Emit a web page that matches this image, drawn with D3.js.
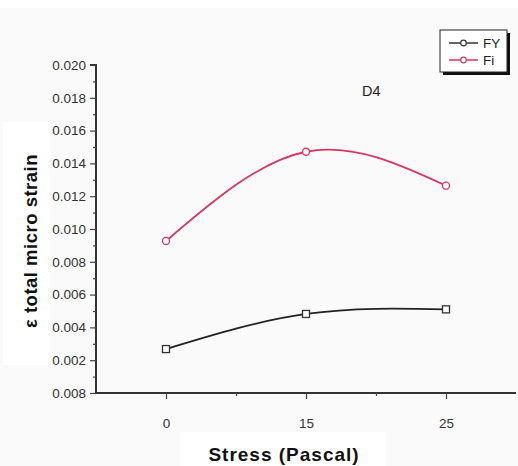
<!DOCTYPE html>
<html>
<head>
<meta charset="utf-8">
<script src="https://cdn.jsdelivr.net/npm/d3@7"></script>
<style>
  body { margin: 0; background: #fafafa; }
  text { font-family: "Liberation Sans", Arial, sans-serif; }
</style>
</head>
<body>
<script>
var categories = ["0", "15", "25"];
var fyValues = [0.00268, 0.00482, 0.0051];
var fiValues = [0.00927, 0.01471, 0.01264];
var yTicks = [0, 0.002, 0.004, 0.006, 0.008, 0.010, 0.012, 0.014, 0.016, 0.018, 0.020];
var yTickLabels = ["0.008", "0.002", "0.004", "0.006", "0.008", "0.010", "0.012", "0.014", "0.016", "0.018", "0.020"];
var seriesNames = ["FY", "Fi"];

var svgWidth = 518, svgHeight = 466;
var svg = d3.select('body').append('svg')
    .attr('width', svgWidth).attr('height', svgHeight);

svg.append('rect').attr('width', svgWidth).attr('height', 8).attr('fill', '#fff');
svg.append('rect').attr('x', 3).attr('y', 122).attr('width', 47).attr('height', 243).attr('fill', '#fff');
svg.append('rect').attr('x', 180).attr('y', 432).attr('width', 206).attr('height', 34).attr('fill', '#fff');

var plotLeft = 96, plotRight = 516, plotTop = 65, plotBottom = 393;

var xScale = d3.scaleLinear().domain([-0.5, 2.5]).range([plotLeft, plotRight]);
var yScale = d3.scaleLinear().domain([0, 0.020]).range([plotBottom, plotTop]);

// y axis: major ticks
var yAxis = d3.axisLeft(yScale)
    .tickValues(yTicks)
    .tickSize(6)
    .tickPadding(4)
    .tickFormat((d, i) => yTickLabels[i]);
var gy = svg.append('g').attr('transform', 'translate(' + plotLeft + ',0)').call(yAxis);
// minor ticks
svg.append('g').attr('transform', 'translate(' + plotLeft + ',0)')
    .call(d3.axisLeft(yScale).tickValues(d3.range(0.001, 0.020, 0.002)).tickSize(3).tickFormat(''))
    .select('.domain').remove();

var xAxis = d3.axisBottom(xScale)
    .tickValues([0, 1, 2])
    .tickSize(6)
    .tickPadding(19)
    .tickFormat((d) => categories[d]);
var gx = svg.append('g').attr('transform', 'translate(0,' + plotBottom + ')').call(xAxis);
svg.append('g').attr('transform', 'translate(0,' + plotBottom + ')')
    .call(d3.axisBottom(xScale).tickValues([0.5, 1.5]).tickSize(3).tickFormat(''))
    .select('.domain').remove();

svg.selectAll('.domain').attr('stroke', '#333').attr('stroke-width', 2);
svg.selectAll('.tick line').attr('stroke', '#444').attr('stroke-width', 1.2);
svg.selectAll('.tick text').attr('fill', '#333').attr('font-size', 13.5)
    .attr('font-family', '"Liberation Sans", Arial, sans-serif');
gy.selectAll('.domain').attr('d', 'M0,' + (plotBottom + 1) + 'V' + plotTop + 'H-6');
gx.selectAll('.domain').attr('d', 'M' + (plotLeft - 1) + ',0H' + plotRight);

var line = d3.line()
    .x((d, i) => xScale(i))
    .y((d) => yScale(d))
    .curve(d3.curveNatural);

svg.append('path').datum(fiValues)
    .attr('d', line).attr('fill', 'none')
    .attr('stroke', '#d8365e').attr('stroke-width', 1.8);
svg.append('path').datum(fyValues)
    .attr('d', line).attr('fill', 'none')
    .attr('stroke', '#222').attr('stroke-width', 1.8);

svg.selectAll('.fi-pt').data(fiValues).enter().append('circle')
    .attr('class', 'fi-pt')
    .attr('cx', (d, i) => xScale(i)).attr('cy', d => yScale(d))
    .attr('r', 3.5).attr('fill', '#fff')
    .attr('stroke', '#d8365e').attr('stroke-width', 1.3);
svg.selectAll('.fy-pt').data(fyValues).enter().append('rect')
    .attr('class', 'fy-pt')
    .attr('x', (d, i) => xScale(i) - 3.5).attr('y', d => yScale(d) - 3.5)
    .attr('width', 7).attr('height', 7).attr('fill', '#fff')
    .attr('stroke', '#333').attr('stroke-width', 1.3);

// legend
var lg = svg.append('g');
lg.append('rect').attr('x', 443).attr('y', 33).attr('width', 67).attr('height', 42).attr('fill', '#111');
lg.append('rect').attr('x', 440).attr('y', 30).attr('width', 67).attr('height', 42)
    .attr('fill', '#fff').attr('stroke', '#222').attr('stroke-width', 1);
var legendColors = ['#333', '#d8365e'];
seriesNames.forEach(function (name, i) {
    var y = 43 + i * 17;
    lg.append('line').attr('x1', 449).attr('x2', 478).attr('y1', y).attr('y2', y)
        .attr('stroke', legendColors[i]).attr('stroke-width', 1.5);
    lg.append('circle').attr('cx', 463.5).attr('cy', y).attr('r', 2.8)
        .attr('fill', '#fff').attr('stroke', legendColors[i]).attr('stroke-width', 1.2);
    lg.append('text').attr('x', 483).attr('y', y + 4.5).attr('font-size', 13.5)
        .attr('fill', '#222').text(name);
});

svg.append('text').attr('x', 362).attr('y', 96).attr('font-size', 14.5)
    .attr('fill', '#222').text('D4');

svg.append('text').attr('x', 284).attr('y', 461)
    .attr('text-anchor', 'middle').attr('font-size', 19).attr('font-weight', 'bold')
    .attr('letter-spacing', 1).attr('fill', '#111').text('Stress (Pascal)');

svg.append('text')
    .attr('transform', 'translate(37,241) rotate(-90)')
    .attr('text-anchor', 'middle').attr('font-size', 18.5).attr('font-weight', 'bold')
    .attr('letter-spacing', 0.5).attr('fill', '#111').text('ε total micro strain');
</script>
</body>
</html>
